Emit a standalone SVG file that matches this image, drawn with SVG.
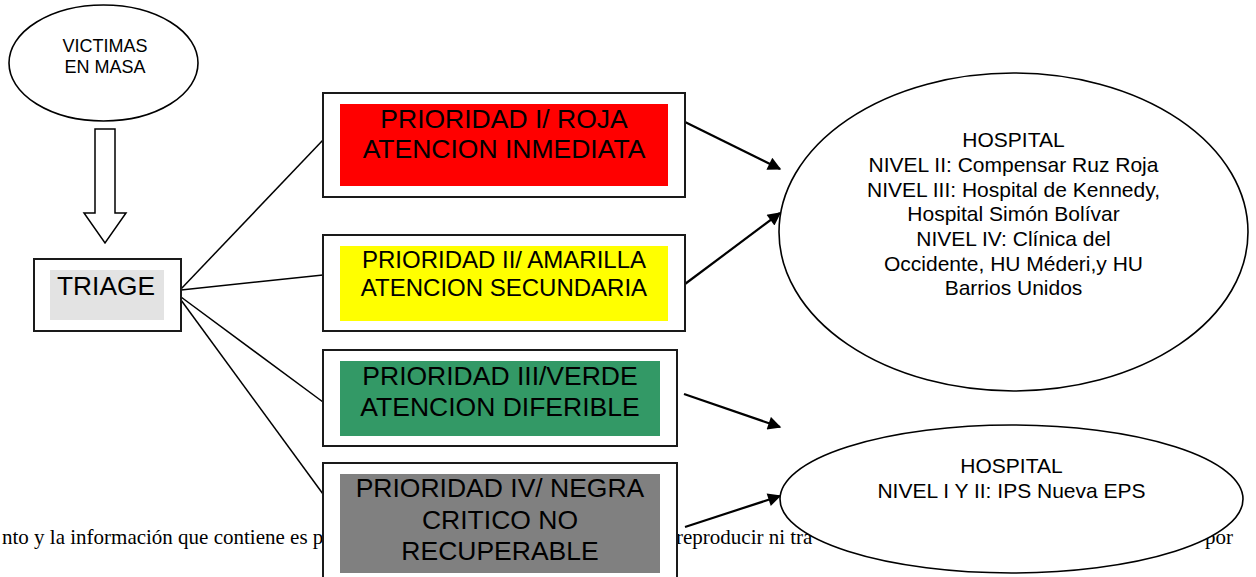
<svg xmlns="http://www.w3.org/2000/svg" width="1256" height="577" viewBox="0 0 1256 577">
<defs>
<style>
.bg{font-family:"Liberation Serif","Times New Roman",serif;font-size:21px;fill:#000}
.sans{font-family:"Liberation Sans",Arial,sans-serif;fill:#000;text-anchor:middle}
.box{fill:#fff;stroke:#1a1a1a;stroke-width:2}
.conn{stroke:#000;stroke-width:1.5;fill:none}
.arr{stroke:#000;stroke-width:2.2;fill:none;marker-end:url(#ah)}
.ell{fill:#fff;stroke:#000;stroke-width:1.6}
</style>
<marker id="ah" viewBox="0 0 10 10" refX="9" refY="5" markerWidth="7" markerHeight="6" markerUnits="strokeWidth" orient="auto">
<path d="M0,0 L10,5 L0,10 z" fill="#000"/>
</marker>
</defs>
<rect width="1256" height="577" fill="#fff"/>
<!-- background footer text -->
<text class="bg" x="2" y="544">nto y la información que contiene es p</text>
<text class="bg" x="676" y="544">reproducir ni tra</text>
<text class="bg" x="1205" y="544">por</text>

<g id="connectors">
<line class="conn" x1="181" y1="289" x2="323" y2="140"/>
<line class="conn" x1="181" y1="290" x2="323" y2="275"/>
<line class="conn" x1="181" y1="297" x2="323" y2="402"/>
<line class="conn" x1="181" y1="300" x2="323" y2="494"/>
<line class="arr" x1="685" y1="122" x2="780" y2="169"/>
<line class="arr" x1="685" y1="284" x2="780" y2="213"/>
<line class="arr" x1="684" y1="394" x2="780" y2="427"/>
<line class="arr" x1="685" y1="527" x2="780" y2="496"/>
<polygon points="95,129 115,129 115,213 126,213 105,243 84,213 95,213" fill="#fff" stroke="#000" stroke-width="1.5"/>
</g>

<g id="victimas">
<ellipse class="ell" cx="103.5" cy="63" rx="94.5" ry="58"/>
<text class="sans" font-size="18" x="105" y="52">VICTIMAS</text>
<text class="sans" font-size="18" x="105" y="73">EN MASA</text>
</g>

<g id="triage">
<rect class="box" x="34" y="259" width="147" height="72"/>
<rect x="50" y="270" width="114" height="50" fill="#e3e3e3"/>
<text class="sans" font-size="26.3" x="106" y="295">TRIAGE</text>
</g>

<g id="prioridad1">
<rect class="box" x="323" y="93" width="362" height="104"/>
<rect x="340" y="104" width="328" height="82" fill="#ff0000"/>
<text class="sans" font-size="26.5" x="504" y="128">PRIORIDAD I/ ROJA</text>
<text class="sans" font-size="26.5" x="504" y="158">ATENCION INMEDIATA</text>
</g>

<g id="prioridad2">
<rect class="box" x="323" y="235" width="362" height="96"/>
<rect x="340" y="246" width="328" height="75" fill="#ffff00"/>
<text class="sans" font-size="24" x="504" y="268">PRIORIDAD II/ AMARILLA</text>
<text class="sans" font-size="24" x="504" y="296">ATENCION SECUNDARIA</text>
</g>

<g id="prioridad3">
<rect class="box" x="323" y="350" width="354" height="96"/>
<rect x="340" y="361" width="320" height="75" fill="#339966"/>
<text class="sans" font-size="26.5" x="500" y="385">PRIORIDAD III/VERDE</text>
<text class="sans" font-size="26.5" x="500" y="416">ATENCION DIFERIBLE</text>
</g>

<g id="prioridad4">
<rect class="box" x="323" y="463" width="354" height="130"/>
<rect x="340" y="474" width="320" height="99" fill="#808080"/>
<text class="sans" font-size="26.5" x="500" y="497">PRIORIDAD IV/ NEGRA</text>
<text class="sans" font-size="26.5" x="500" y="529">CRITICO NO</text>
<text class="sans" font-size="26.5" x="500" y="560">RECUPERABLE</text>
</g>

<g id="hospital1">
<ellipse class="ell" cx="1013.5" cy="232" rx="234.5" ry="159"/>
<text class="sans" font-size="21" x="1013.5" y="147">HOSPITAL</text>
<text class="sans" font-size="21" x="1013.5" y="172">NIVEL II: Compensar Ruz Roja</text>
<text class="sans" font-size="21" x="1013.5" y="197">NIVEL III: Hospital de Kennedy,</text>
<text class="sans" font-size="21" x="1013.5" y="221">Hospital Simón Bolívar</text>
<text class="sans" font-size="21" x="1013.5" y="246">NIVEL IV: Clínica del</text>
<text class="sans" font-size="21" x="1013.5" y="271">Occidente, HU Méderi,y HU</text>
<text class="sans" font-size="21" x="1013.5" y="295">Barrios Unidos</text>
</g>

<g id="hospital2">
<ellipse class="ell" cx="1011.5" cy="499" rx="231.5" ry="74"/>
<text class="sans" font-size="21" x="1011.5" y="473">HOSPITAL</text>
<text class="sans" font-size="21" x="1011.5" y="498">NIVEL I Y II: IPS Nueva EPS</text>
</g>
</svg>
